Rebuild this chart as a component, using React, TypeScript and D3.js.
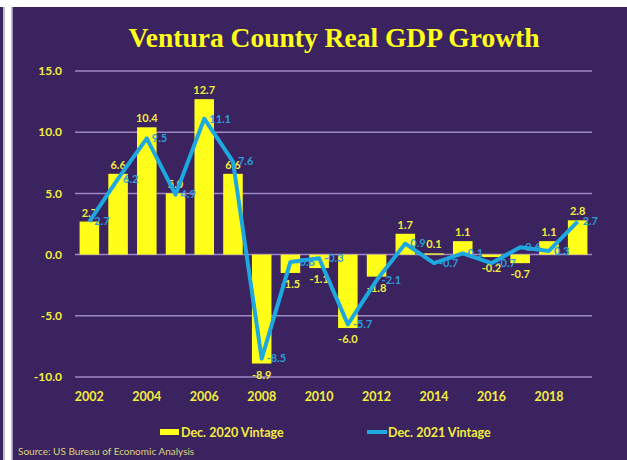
import React from "react";
import * as d3 from "d3";

const years = ["2002","2003","2004","2005","2006","2007","2008","2009","2010","2011","2012","2013","2014","2015","2016","2017","2018","2019"];
const vintage2020 = [2.7, 6.6, 10.4, 5.0, 12.7, 6.6, -8.9, -1.5, -1.1, -6.0, -1.8, 1.7, 0.1, 1.1, -0.2, -0.7, 1.1, 2.8];
const vintage2021 = [2.7, 6.2, 9.5, 4.9, 11.1, 7.6, -8.5, -0.6, -0.3, -5.7, -2.1, 0.9, -0.7, 0.1, -0.7, 0.6, 0.3, 2.7];
const yTicks = [15, 10, 5, 0, -5, -10];
const xTickLabels = ["2002","2004","2006","2008","2010","2012","2014","2016","2018"];

const W = 627, H = 460;
const BG = "#3b2360";
const YEL = "#ffff1a";
const TXT = "#f2ee3c";
const BLUE = "#1ea8e0";
const BLUE_TXT = "#2b9ddb";
const GRID = "#9c88c4";
const FONT = "Lato, 'Open Sans', sans-serif";

export default function App() {
  const x = d3.scaleBand<string>().domain(years).range([75, 592]).paddingInner(0.32).paddingOuter(0.16);
  const y = d3.scaleLinear().domain([-10, 15]).range([377, 71]);
  const cx = (d: string) => (x(d) as number) + x.bandwidth() / 2;
  const line = d3.line<number>().x((_, i) => cx(years[i])).y((v) => y(v));

  return (
    <svg width={W} height={H} style={{ position: "absolute", left: 0, top: 0, display: "block" }}>
      <rect x={0} y={0} width={W} height={H} fill={BG} />
      <rect x={0} y={0} width={W} height={7} fill="#ffffff" />
      <rect x={3} y={7} width={1.5} height={H - 7} fill="#c9bde0" />
      <rect x={4.5} y={7} width={6.5} height={H - 7} fill="#ffffff" />
      <rect x={11} y={7} width={1.7} height={H - 7} fill="#c9bde0" />

      <text x={334} y={47} textAnchor="middle" fill={YEL} fontFamily="'Liberation Serif', 'DejaVu Serif', serif" fontWeight="bold" fontSize={27.5}>
        Ventura County Real GDP Growth
      </text>

      {yTicks.map((t) => (
        <g key={t}>
          <line x1={75} x2={592} y1={y(t)} y2={y(t)} stroke={GRID} strokeWidth={1.5} />
          <text x={62} y={y(t)} dy="0.35em" textAnchor="end" fill={TXT} fontFamily={FONT} fontWeight="bold" fontSize={12}>
            {t.toFixed(1)}
          </text>
        </g>
      ))}

      {years.map((yr, i) => {
        const v = vintage2020[i];
        const top = Math.min(y(v), y(0));
        const h = Math.abs(y(v) - y(0));
        return <rect key={yr} x={x(yr)} y={top} width={x.bandwidth()} height={Math.max(h, 1)} fill={YEL} />;
      })}

      {years.map((yr, i) => {
        const v = vintage2020[i];
        const ly = v >= 0 ? y(v) - 5 : y(v) + 15;
        return (
          <text key={"bl" + yr} x={cx(yr)} y={ly} textAnchor="middle" fill={TXT} fontFamily={FONT} fontWeight="bold" fontSize={11}>
            {v.toFixed(1)}
          </text>
        );
      })}

      <path d={line(vintage2021) || ""} fill="none" stroke={BLUE} strokeWidth={4} strokeLinejoin="round" />

      {years.map((yr, i) => {
        const v = vintage2021[i];
        return (
          <text key={"ll" + yr} x={cx(yr) + 5} y={y(v)} dy="0.35em" textAnchor="start" fill={BLUE_TXT} fontFamily={FONT} fontWeight="bold" fontSize={11}>
            {v.toFixed(1)}
          </text>
        );
      })}

      {xTickLabels.map((l) => (
        <text key={"x" + l} x={cx(l)} y={401} textAnchor="middle" fill={TXT} fontFamily={FONT} fontWeight="bold" fontSize={12.5}>
          {l}
        </text>
      ))}

      <rect x={160} y={429} width={19} height={6} fill={YEL} />
      <text x={181} y={437} fill={TXT} fontFamily={FONT} fontWeight="bold" fontSize={12.5}>Dec. 2020 Vintage</text>
      <line x1={367} x2={387} y1={432} y2={432} stroke={BLUE} strokeWidth={4} />
      <text x={388} y={437} fill={TXT} fontFamily={FONT} fontWeight="bold" fontSize={12.5}>Dec. 2021 Vintage</text>

      <text x={18} y={455} fill="#d9d37a" fontFamily={FONT} fontSize={10}>Source: US Bureau of Economic Analysis</text>
    </svg>
  );
}
